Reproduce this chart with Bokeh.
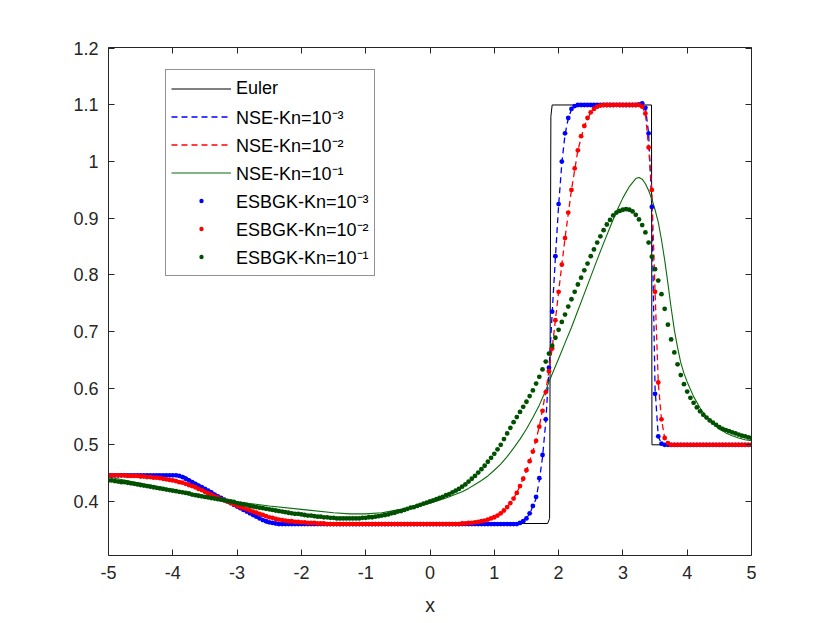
import numpy as np
from bokeh.plotting import figure
from bokeh.models import (Range1d, LinearAxis, FixedTicker, CustomJSTickFormatter,
                          Legend, LegendItem)
from bokeh.embed import file_html
from bokeh.resources import INLINE

# ---------------- data ----------------
# Euler solution
euler_x = [-5.0, -3.84, -3.5, -3.17, -2.85, -2.53, 1.83, 1.86, 1.88, 1.9, 3.445, 3.452, 5.0]
euler_y = [0.446, 0.446, 0.424, 0.403, 0.382, 0.361, 0.361, 0.37, 1.08, 1.1, 1.1, 0.5, 0.5]

# NSE Kn=1e-3
nse3_x = [-5, -3.95, -3.85, -3.75, -3.5, -3.0, -2.7, -2.55, -2.45, -2.35,
          1.35, 1.45, 1.55, 1.65, 1.7, 1.75, 1.8, 1.85, 1.9, 1.95,
          2.0, 2.05, 2.1, 2.15, 2.2, 2.25, 2.3,
          3.3, 3.35, 3.4, 3.45, 3.5, 3.55, 3.6, 3.65, 5]
nse3_y = [0.446, 0.446, 0.444, 0.438, 0.422, 0.391, 0.373, 0.365, 0.362, 0.360,
          0.360, 0.364, 0.378, 0.405, 0.437, 0.478, 0.540, 0.632, 0.732, 0.830,
          0.922, 0.997, 1.048, 1.076, 1.092, 1.098, 1.100,
          1.101, 1.096, 1.050, 0.920, 0.600, 0.515, 0.502, 0.500, 0.500]

# NSE Kn=1e-2
nse2_x = [-5, -4.7, -4.4, -4.1, -3.9, -3.7, -3.5, -3.3, -3.1, -2.9,
          -2.7, -2.5, -2.3, -2.1, -1.9, -1.7, -1.5, 0.5, 0.7, 0.9,
          1.0, 1.1, 1.2, 1.3, 1.4, 1.5, 1.6, 1.7, 1.8, 1.9,
          2.0, 2.1, 2.2, 2.3, 2.4, 2.5, 2.6, 2.7, 3.3, 3.35,
          3.4, 3.45, 3.5, 3.55, 3.6, 3.65, 3.7, 3.75, 5]
nse2_y = [0.446, 0.445, 0.443, 0.439, 0.434, 0.427, 0.417, 0.407, 0.397, 0.388,
          0.380, 0.372, 0.367, 0.364, 0.362, 0.361, 0.360, 0.360, 0.363, 0.368,
          0.372, 0.379, 0.390, 0.405, 0.427, 0.455, 0.488, 0.532, 0.593, 0.670,
          0.770, 0.865, 0.950, 1.020, 1.063, 1.087, 1.097, 1.100, 1.097, 1.085,
          1.025, 0.950, 0.770, 0.610, 0.545, 0.512, 0.503, 0.500, 0.500]

# NSE Kn=1e-1
nse1_x = [-5, -4.5, -4.0, -3.5, -3.0, -2.5, -2.0, -1.5, -1.25, -1.0,
          -0.75, -0.5, -0.25, 0.0, 0.25, 0.5, 0.6, 0.7, 0.8, 0.9,
          1.0, 1.1, 1.2, 1.3, 1.4, 1.5, 1.6, 1.7, 1.8, 1.9,
          2.0, 2.1, 2.2, 2.3, 2.4, 2.5, 2.6, 2.7, 2.8, 2.9,
          3.0, 3.1, 3.2, 3.25, 3.3, 3.35, 3.4, 3.45, 3.5, 3.55,
          3.6, 3.65, 3.7, 3.75, 3.8, 3.85, 3.9, 3.95, 4.0, 4.1,
          4.2, 4.3, 4.4, 4.5, 4.6, 4.7, 4.8, 4.9, 5.0]
nse1_y = [0.443, 0.432, 0.421, 0.410, 0.399, 0.392, 0.386, 0.380, 0.378, 0.378,
          0.380, 0.385, 0.390, 0.397, 0.406, 0.417, 0.423, 0.430, 0.437, 0.445,
          0.455, 0.466, 0.479, 0.494, 0.510, 0.528, 0.548, 0.570, 0.596, 0.625,
          0.652, 0.680, 0.707, 0.737, 0.767, 0.797, 0.827, 0.856, 0.884, 0.912,
          0.936, 0.956, 0.970, 0.972, 0.969, 0.961, 0.949, 0.934, 0.915, 0.893,
          0.862, 0.826, 0.785, 0.742, 0.703, 0.672, 0.645, 0.626, 0.611, 0.585,
          0.565, 0.549, 0.537, 0.528, 0.521, 0.516, 0.512, 0.509, 0.507]

# ESBGK solutions on the grid x = -5 : 0.05 : 5 (201 points)
grid_x = np.round(np.linspace(-5.0, 5.0, 201), 2).tolist()

esbgk3_y = [
    0.446, 0.446, 0.446, 0.446, 0.446, 0.446, 0.446, 0.446, 0.446, 0.446,
    0.446, 0.446, 0.446, 0.446, 0.446, 0.446, 0.446, 0.446, 0.446, 0.446,
    0.446, 0.446, 0.445, 0.443, 0.440, 0.437, 0.434, 0.431, 0.428, 0.425,
    0.422, 0.419, 0.416, 0.412, 0.409, 0.406, 0.403, 0.400, 0.397, 0.394,
    0.391, 0.388, 0.385, 0.382, 0.379, 0.376, 0.373, 0.370, 0.367, 0.365,
    0.363, 0.362, 0.361, 0.360, 0.360, 0.360, 0.360, 0.360, 0.360, 0.360,
    0.360, 0.360, 0.360, 0.360, 0.360, 0.360, 0.360, 0.360, 0.360, 0.360,
    0.360, 0.360, 0.360, 0.360, 0.360, 0.360, 0.360, 0.360, 0.360, 0.360,
    0.360, 0.360, 0.360, 0.360, 0.360, 0.360, 0.360, 0.360, 0.360, 0.360,
    0.360, 0.360, 0.360, 0.360, 0.360, 0.360, 0.360, 0.360, 0.360, 0.360,
    0.360, 0.360, 0.360, 0.360, 0.360, 0.360, 0.360, 0.360, 0.360, 0.360,
    0.360, 0.360, 0.360, 0.360, 0.360, 0.360, 0.360, 0.360, 0.360, 0.360,
    0.360, 0.360, 0.360, 0.360, 0.360, 0.360, 0.360, 0.360, 0.362, 0.365,
    0.370, 0.379, 0.392, 0.408, 0.441, 0.482, 0.545, 0.636, 0.735, 0.833,
    0.925, 1.000, 1.050, 1.077, 1.093, 1.098, 1.100, 1.100, 1.100, 1.100,
    1.100, 1.100, 1.100, 1.100, 1.100, 1.100, 1.100, 1.100, 1.100, 1.100,
    1.100, 1.100, 1.100, 1.100, 1.100, 1.101, 1.103, 1.095, 1.050, 0.920,
    0.590, 0.515, 0.502, 0.500, 0.500, 0.500, 0.500, 0.500, 0.500, 0.500,
    0.500, 0.500, 0.500, 0.500, 0.500, 0.500, 0.500, 0.500, 0.500, 0.500,
    0.500, 0.500, 0.500, 0.500, 0.500, 0.500, 0.500, 0.500, 0.500, 0.500,
    0.500]

esbgk2_y = [
    0.446, 0.446, 0.446, 0.446, 0.446, 0.446, 0.445, 0.445, 0.445, 0.445,
    0.444, 0.444, 0.443, 0.443, 0.442, 0.442, 0.441, 0.440, 0.439, 0.438,
    0.437, 0.436, 0.434, 0.433, 0.431, 0.429, 0.427, 0.425, 0.422, 0.420,
    0.417, 0.414, 0.412, 0.409, 0.407, 0.404, 0.402, 0.400, 0.397, 0.395,
    0.392, 0.390, 0.388, 0.386, 0.384, 0.382, 0.380, 0.378, 0.376, 0.374,
    0.372, 0.371, 0.369, 0.368, 0.367, 0.366, 0.365, 0.365, 0.364, 0.364,
    0.363, 0.363, 0.362, 0.362, 0.362, 0.361, 0.361, 0.361, 0.360, 0.360,
    0.360, 0.360, 0.360, 0.360, 0.360, 0.360, 0.360, 0.360, 0.360, 0.360,
    0.360, 0.360, 0.360, 0.360, 0.360, 0.360, 0.360, 0.360, 0.360, 0.360,
    0.360, 0.360, 0.360, 0.360, 0.360, 0.360, 0.360, 0.360, 0.360, 0.360,
    0.360, 0.360, 0.360, 0.360, 0.360, 0.360, 0.360, 0.360, 0.360, 0.360,
    0.361, 0.361, 0.362, 0.362, 0.363, 0.364, 0.365, 0.366, 0.368, 0.370,
    0.372, 0.375, 0.379, 0.384, 0.390, 0.397, 0.405, 0.415, 0.427, 0.440,
    0.455, 0.471, 0.488, 0.507, 0.532, 0.560, 0.593, 0.630, 0.670, 0.720,
    0.770, 0.818, 0.865, 0.910, 0.950, 0.988, 1.020, 1.045, 1.063, 1.077,
    1.087, 1.093, 1.097, 1.099, 1.100, 1.100, 1.100, 1.100, 1.100, 1.100,
    1.100, 1.100, 1.100, 1.100, 1.100, 1.100, 1.097, 1.085, 1.025, 0.950,
    0.770, 0.610, 0.545, 0.512, 0.503, 0.500, 0.500, 0.500, 0.500, 0.500,
    0.500, 0.500, 0.500, 0.500, 0.500, 0.500, 0.500, 0.500, 0.500, 0.500,
    0.500, 0.500, 0.500, 0.500, 0.500, 0.500, 0.500, 0.500, 0.500, 0.500,
    0.500]

esbgk1_y = [
    0.437, 0.437, 0.436, 0.435, 0.434, 0.434, 0.433, 0.432, 0.431, 0.430,
    0.429, 0.428, 0.427, 0.426, 0.425, 0.424, 0.423, 0.422, 0.421, 0.420,
    0.419, 0.418, 0.417, 0.416, 0.415, 0.414, 0.412, 0.411, 0.410, 0.409,
    0.408, 0.407, 0.406, 0.405, 0.404, 0.403, 0.402, 0.401, 0.400, 0.399,
    0.397, 0.396, 0.395, 0.394, 0.392, 0.391, 0.390, 0.389, 0.388, 0.387,
    0.386, 0.385, 0.384, 0.383, 0.382, 0.381, 0.380, 0.379, 0.378, 0.378,
    0.377, 0.376, 0.375, 0.375, 0.374, 0.373, 0.373, 0.372, 0.372, 0.371,
    0.371, 0.370, 0.370, 0.370, 0.370, 0.370, 0.370, 0.370, 0.370, 0.371,
    0.371, 0.372, 0.372, 0.373, 0.374, 0.375, 0.376, 0.377, 0.379, 0.380,
    0.382, 0.383, 0.385, 0.387, 0.389, 0.390, 0.392, 0.394, 0.396, 0.398,
    0.400, 0.402, 0.404, 0.406, 0.408, 0.411, 0.413, 0.416, 0.419, 0.422,
    0.426, 0.430, 0.435, 0.440, 0.445, 0.451, 0.457, 0.463, 0.470, 0.477,
    0.484, 0.492, 0.500, 0.510, 0.520, 0.530, 0.540, 0.549, 0.558, 0.567,
    0.576, 0.586, 0.596, 0.608, 0.620, 0.633, 0.647, 0.661, 0.675, 0.689,
    0.703, 0.717, 0.730, 0.744, 0.757, 0.770, 0.783, 0.795, 0.808, 0.820,
    0.833, 0.845, 0.857, 0.868, 0.879, 0.889, 0.897, 0.905, 0.910, 0.913,
    0.915, 0.916, 0.915, 0.912, 0.906, 0.898, 0.888, 0.875, 0.857, 0.832,
    0.810, 0.790, 0.766, 0.740, 0.712, 0.686, 0.663, 0.642, 0.623, 0.607,
    0.594, 0.583, 0.574, 0.566, 0.559, 0.553, 0.548, 0.543, 0.539, 0.535,
    0.531, 0.528, 0.526, 0.524, 0.522, 0.520, 0.518, 0.516, 0.515, 0.513,
    0.512]

x_ticks = [-5, -4, -3, -2, -1, 0, 1, 2, 3, 4, 5]
y_ticks = [0.4, 0.5, 0.6, 0.7, 0.8, 0.9, 1.0, 1.1, 1.2]

labels = ["Euler", "NSE-Kn=10\u207b\u00b3", "NSE-Kn=10\u207b\u00b2", "NSE-Kn=10\u207b\u00b9",
          "ESBGK-Kn=10\u207b\u00b3", "ESBGK-Kn=10\u207b\u00b2", "ESBGK-Kn=10\u207b\u00b9"]

# ---------------- figure ----------------
FONT = "Liberation Sans"
AX = "#262626"

p = figure(frame_width=643, frame_height=508,
           x_range=Range1d(-5, 5), y_range=Range1d(0.3045, 1.2015),
           output_backend="svg", toolbar_location=None,
           min_border_left=108, min_border_top=47, min_border_right=40, min_border_bottom=60)
p.xgrid.visible = False
p.ygrid.visible = False
p.outline_line_color = None
p.background_fill_color = "white"

fmt = CustomJSTickFormatter(code="return (Math.round(tick*10)/10).toString();")
blank = CustomJSTickFormatter(code="return '';")

p.add_layout(LinearAxis(), "above")
p.add_layout(LinearAxis(), "right")

for ax in p.xaxis:
    ax.ticker = FixedTicker(ticks=x_ticks)
for ax in p.yaxis:
    ax.ticker = FixedTicker(ticks=y_ticks)

for ax in p.xaxis + p.yaxis:
    ax.axis_line_color = AX
    ax.axis_line_width = 1
    ax.major_tick_line_color = AX
    ax.major_tick_in = 6
    ax.major_tick_out = 0
    ax.minor_tick_line_color = None
    ax.major_label_text_font = FONT
    ax.major_label_text_font_size = "18px"
    ax.major_label_text_color = AX

p.below[0].formatter = fmt
p.left[0].formatter = fmt
p.above[0].formatter = blank
p.right[0].formatter = blank
p.below[0].major_label_standoff = 10
p.left[0].major_label_standoff = 10
p.above[0].major_label_standoff = 0
p.right[0].major_label_standoff = 0

p.below[0].axis_label = "x"
p.below[0].axis_label_text_font = FONT
p.below[0].axis_label_text_font_size = "19.5px"
p.below[0].axis_label_text_font_style = "normal"
p.below[0].axis_label_text_color = AX
p.below[0].axis_label_standoff = 12

# ---------------- data renderers ----------------
r_eu = p.line(euler_x, euler_y, line_color="black", line_width=1)
r_n3 = p.line(nse3_x, nse3_y, line_color="#0000ff", line_width=1.3, line_dash="6 4")
r_n2 = p.line(nse2_x, nse2_y, line_color="#ff0000", line_width=1.3, line_dash="6 4")
r_n1 = p.line(nse1_x, nse1_y, line_color="#0a6a0a", line_width=1.1)
r_e3 = p.scatter(grid_x, esbgk3_y, marker="circle", size=4.8, fill_color="#0000ff", line_color=None)
r_e2 = p.scatter(grid_x, esbgk2_y, marker="circle", size=4.8, fill_color="#ff0000", line_color=None)
r_e1 = p.scatter(grid_x, esbgk1_y, marker="circle", size=4.8, fill_color="#005000", line_color=None)

rends = [r_eu, r_n3, r_n2, r_n1, r_e3, r_e2, r_e1]
legend = Legend(items=[LegendItem(label=l, renderers=[r]) for l, r in zip(labels, rends)],
                location=(57, 279), orientation="vertical",
                glyph_width=60, glyph_height=11, label_height=27, spacing=1,
                padding=5, margin=0, label_standoff=5,
                label_text_font=FONT, label_text_font_size="18px", label_text_color="black",
                border_line_color=AX, border_line_width=1, background_fill_color="white",
                background_fill_alpha=1.0)
p.add_layout(legend, "center")

open("out.html", "w").write(file_html(p, INLINE))
